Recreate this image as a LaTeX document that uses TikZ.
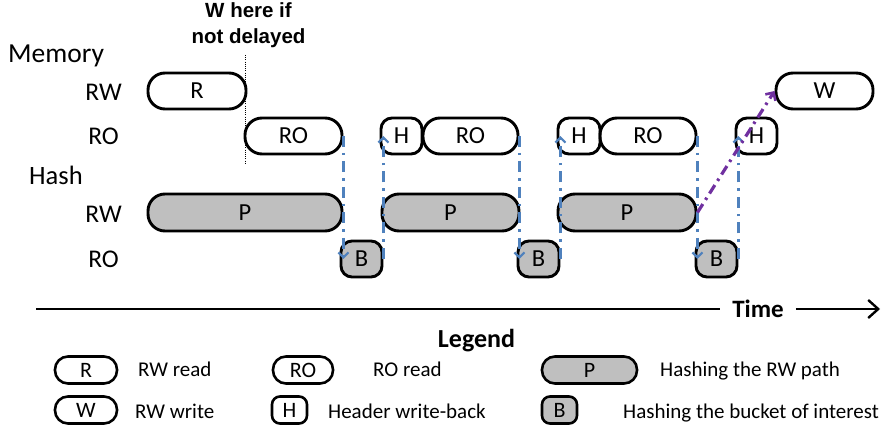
\documentclass[tikz,border=0pt]{standalone}
\usepackage{fontspec}
\setmainfont{Carlito}
\newfontfamily\arialfont{Liberation Sans}
\usetikzlibrary{arrows.meta}
\definecolor{boxgray}{RGB}{191,191,191}
\definecolor{arrblue}{RGB}{79,129,189}
\definecolor{arrpurple}{RGB}{112,48,160}
\tikzset{
  pill/.style={draw=black, line width=2.9pt, rounded corners=17pt, minimum height=36pt, inner sep=0pt, font=\fontsize{24.5}{28}\selectfont},
  smallbox/.style={draw=black, line width=2.9pt, rounded corners=11pt, minimum height=36pt, inner sep=0pt, font=\fontsize{24.5}{28}\selectfont},
  grayfill/.style={fill=boxgray},
  lpill/.style={draw=black, line width=2.6pt, rounded corners=13pt, minimum height=27pt, inner sep=0pt, font=\fontsize{22}{25}\selectfont},
  lsmall/.style={draw=black, line width=2.6pt, rounded corners=8pt, minimum height=27pt, inner sep=0pt, font=\fontsize{22}{25}\selectfont},
  rowlabel/.style={anchor=base east, inner sep=0pt, font=\fontsize{25.5}{30}\selectfont},
  legtext/.style={anchor=base west, inner sep=0pt, font=\fontsize{21}{25}\selectfont},
  bluearr/.style={draw=arrblue, line width=2.3pt, dash pattern=on 11pt off 6pt on 2.5pt off 6pt, -{Straight Barb[length=5pt,width=10pt,line width=2.2pt]}},
  purplearr/.style={draw=arrpurple, line width=3.2pt, dash pattern=on 10pt off 5pt on 2.5pt off 5pt, -{Straight Barb[length=6pt,width=12pt,line width=2.6pt]}},
}
\begin{document}
\begin{tikzpicture}[x=1pt, y=-1pt]
\useasboundingbox (0,0) rectangle (883,427);

% headings
\node[anchor=base west, inner sep=0pt, font=\fontsize{27.5}{30}\selectfont] (mem) at (8,63) {Memory};
\node[anchor=base west, inner sep=0pt, font=\fontsize{26.5}{30}\selectfont] (hash) at (29,185) {Hash};
\node[rowlabel] (mrw) at (122,101) {RW};
\node[rowlabel] (mro) at (119,145) {RO};
\node[rowlabel] (hrw) at (122,223) {RW};
\node[rowlabel] (hro) at (119,268) {RO};

% note
\node[align=center, inner sep=0pt, font=\arialfont\bfseries\fontsize{20.5}{26}\selectfont, anchor=base] (note) at (248.5,44) {W here if\\not delayed};
\coordinate (d0) at (245,55);
\coordinate (d1) at (245,163);
\draw[line width=1pt, dash pattern=on 1pt off 1.2pt] (d0) -- (d1);

% memory RW
\node[pill, minimum width=98pt] (R) at (197,91) {R};
\node[pill, minimum width=97pt] (W) at (824.5,91) {W};
% memory RO
\node[pill, minimum width=97pt] (RO1) at (293.5,136) {RO};
\node[smallbox, minimum width=41pt] (H1) at (401.5,136) {H};
\node[pill, minimum width=95pt] (RO2) at (470.5,136) {RO};
\node[smallbox, minimum width=42pt] (H2) at (579,136) {H};
\node[pill, minimum width=96pt] (RO3) at (648,136) {RO};
\node[smallbox, minimum width=41pt] (H3) at (756.5,136) {H};
% hash RW
\node[pill, grayfill, minimum width=194pt, minimum height=37pt] (P1) at (245,212.5) {P};
\node[pill, grayfill, minimum width=137pt, minimum height=37pt] (P2) at (450.5,212.5) {P};
\node[pill, grayfill, minimum width=138pt, minimum height=37pt] (P3) at (627,212.5) {P};
% hash RO
\node[smallbox, grayfill, minimum width=41pt] (B1) at (361.5,259) {B};
\node[smallbox, grayfill, minimum width=41pt] (B2) at (538.5,259) {B};
\node[smallbox, grayfill, minimum width=41pt] (B3) at (716.5,259) {B};

% arrows
\draw[bluearr] (RO1.east) -- (RO1.east |- B1.west);
\draw[bluearr] (B1.east) -- (B1.east |- H1.west);
\draw[bluearr] (RO2.east) -- (RO2.east |- B2.west);
\draw[bluearr] (B2.east) -- (B2.east |- H2.west);
\draw[bluearr] (RO3.east) -- (RO3.east |- B3.west);
\draw[bluearr] (B3.east) -- (B3.east |- H3.west);
\draw[purplearr] (P3.east) -- (W.west);

% time axis
\coordinate (t0) at (36,309);
\coordinate (t1) at (880,309);
\node[font=\bfseries\fontsize{25}{28}\selectfont, inner xsep=12pt, inner ysep=0pt] (time) at (758,309) {Time};
\draw[line width=2.8pt] (t0) -- (time.west);
\draw[line width=2.4pt, -{Straight Barb[length=10pt,width=18pt,line width=2.4pt]}] (time.east) -- (t1);

% legend
\node[anchor=base, inner sep=0pt, font=\bfseries\fontsize{26}{30}\selectfont] (leg) at (476.5,348) {Legend};
\node[lpill, minimum width=62pt] (lR) at (86,370) {R};
\node[legtext] (tR) at (138,377) {RW read};
\node[lpill, minimum width=60pt] (lRO) at (303,370) {RO};
\node[legtext] (tRO) at (373,377) {RO read};
\node[lpill, grayfill, minimum width=95pt] (lP) at (589.5,370) {P};
\node[legtext] (tP) at (660,377) {Hashing the RW path};
\node[lpill, minimum width=62pt] (lW) at (86,410) {W};
\node[legtext] (tW) at (135,418) {RW write};
\node[lsmall, minimum width=35pt] (lH) at (289.5,410) {H};
\node[legtext] (tH) at (328,418) {Header write-back};
\node[lsmall, grayfill, minimum width=35pt] (lB) at (559.5,410) {B};
\node[legtext] (tB) at (623,418) {Hashing the bucket of interest};
\end{tikzpicture}
\end{document}
